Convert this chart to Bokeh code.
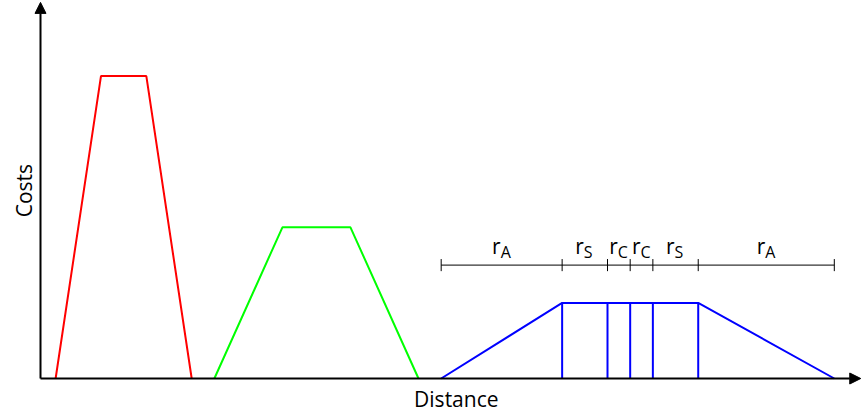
from bokeh.plotting import figure
from bokeh.models import Arrow, NormalHead
from bokeh.core.properties import value
from bokeh.embed import file_html
from bokeh.resources import INLINE

# Cost profiles along the distance axis (units: cm)
red_x = [0.4, 1.6, 2.8, 4.0]
red_y = [0, 8, 8, 0]
green_x = [4.6, 6.4, 8.2, 10.0]
green_y = [0, 4, 4, 0]
blue_x = [10.6, 13.8, 17.4, 21.0]
blue_y = [0, 2, 2, 0]
blue_steps = [13.8, 15.0, 15.6, 16.2, 17.4]
blue_step_top = 2

# Interval scale above the blue profile
interval_edges = [10.6, 13.8, 15.0, 15.6, 16.2, 17.4, 21.0]
interval_subs = ["A", "S", "C", "C", "S", "A"]
interval_level = 3.0

x_axis_end = 21.7
y_axis_end = 9.95

FONT = "Open Sans"
U = 37.8  # pixels per unit

W, H = 868, 416
x0, y0 = 40, 378
p = figure(width=W, height=H, output_backend="svg", toolbar_location=None,
           x_range=(-x0 / U, (W - x0) / U), y_range=(-(H - y0) / U, y0 / U),
           x_axis_type=None, y_axis_type=None, min_border=0)
p.grid.visible = False
p.outline_line_color = None
p.background_fill_color = "white"
p.border_fill_color = "white"

# Profiles
p.line(red_x, red_y, line_color="#ff0000", line_width=2)
p.line(green_x, green_y, line_color="#00ff00", line_width=2)
p.line(blue_x, blue_y, line_color="#0000ff", line_width=2)
p.segment(x0=blue_steps, y0=[0] * len(blue_steps), x1=blue_steps,
          y1=[blue_step_top] * len(blue_steps), line_color="#0000ff", line_width=2)

# Interval bar with end ticks
p.line([interval_edges[0], interval_edges[-1]], [interval_level, interval_level],
       line_color="black", line_width=1)
tick = 0.16
p.segment(x0=interval_edges, y0=[interval_level - tick] * len(interval_edges),
          x1=interval_edges, y1=[interval_level + tick] * len(interval_edges),
          line_color="black", line_width=1)
mids = [(a + b) / 2 for a, b in zip(interval_edges[:-1], interval_edges[1:])]
p.text(x=mids, y=[3.50] * len(mids), text=["r"] * len(mids),
       text_font=value(FONT), text_font_size="21px", text_align="right",
       text_baseline="middle", x_offset=-1, text_color="black")
p.text(x=mids, y=[3.34] * len(mids), text=interval_subs,
       text_font=value(FONT), text_font_size="16px", text_align="left",
       text_baseline="middle", x_offset=-1, text_color="black")

# Axes with arrow heads
p.add_layout(Arrow(end=NormalHead(size=11, fill_color="black", line_color="black"),
                   x_start=0, y_start=0, x_end=x_axis_end, y_end=0,
                   line_width=2, line_color="black"))
p.add_layout(Arrow(end=NormalHead(size=11, fill_color="black", line_color="black"),
                   x_start=0, y_start=0, x_end=0, y_end=y_axis_end,
                   line_width=2, line_color="black"))

p.text(x=[11.0], y=[-0.55], text=["Distance"], text_font=value(FONT),
       text_font_size="21px", text_align="center", text_baseline="middle",
       text_color="black")
p.text(x=[-0.44], y=[4.97], text=["Costs"], text_font=value(FONT),
       text_font_size="21px", text_align="center", text_baseline="middle",
       angle=1.5707963, text_color="black")

open("out.html", "w").write(file_html(p, INLINE))
